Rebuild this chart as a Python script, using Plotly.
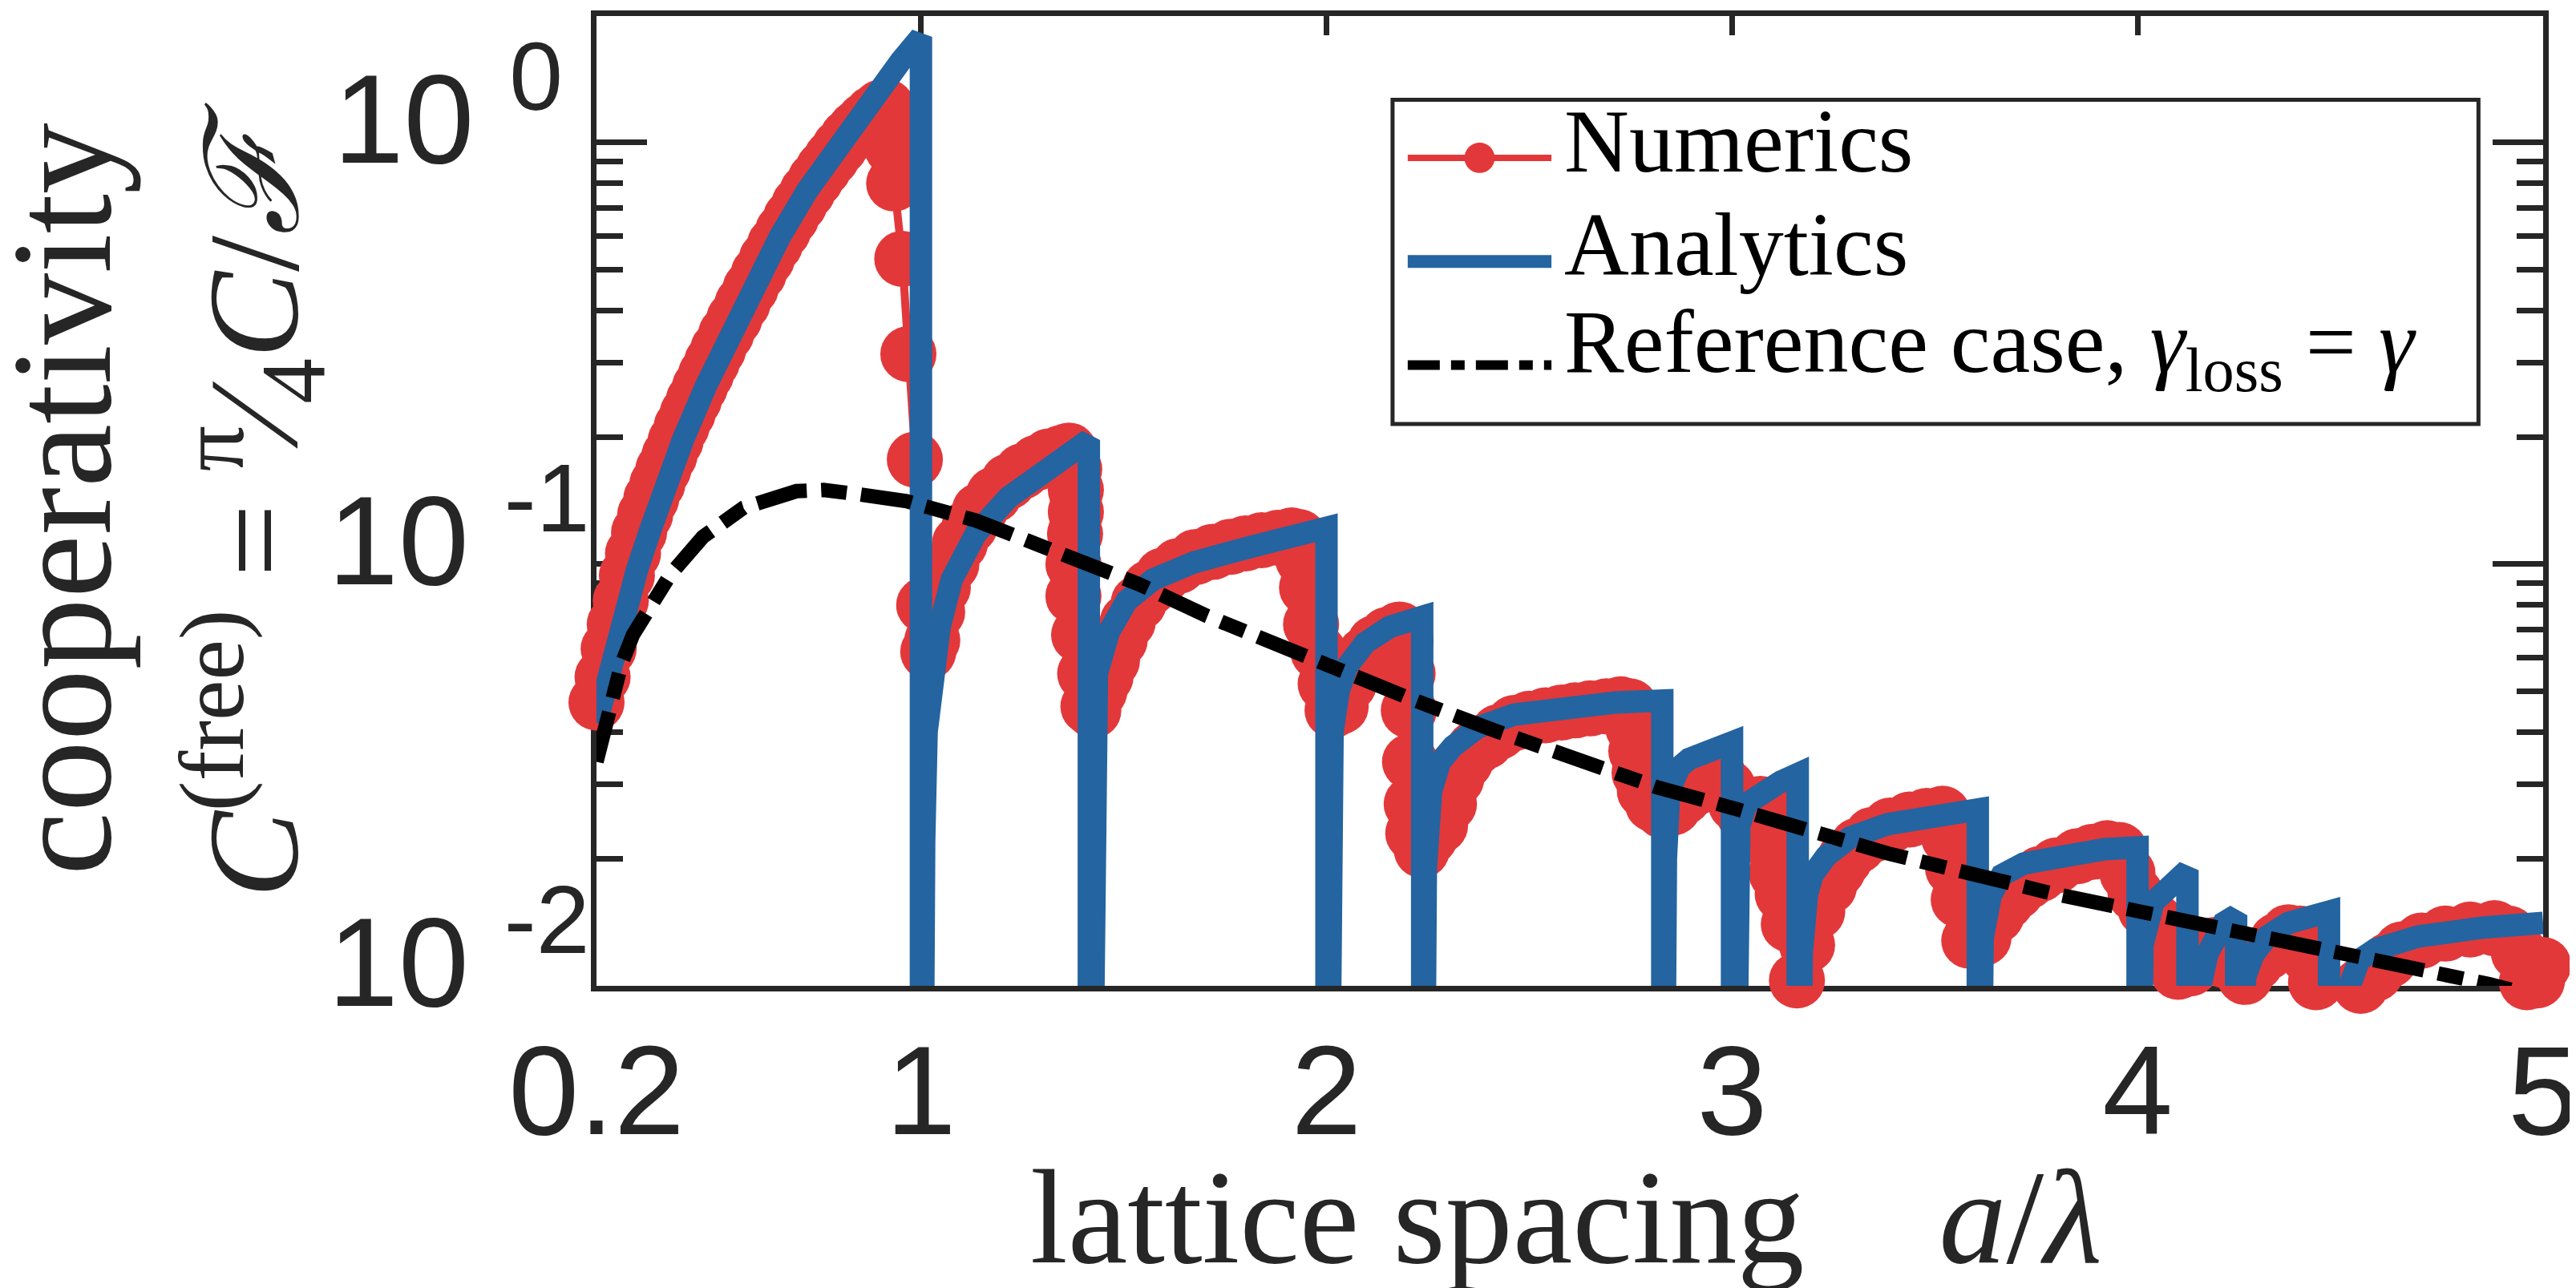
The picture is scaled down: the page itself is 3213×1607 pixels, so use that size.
import plotly.graph_objects as go

# ---------------- data ----------------
numerics_x = [0.200, 0.215, 0.230, 0.245, 0.260, 0.275, 0.290, 0.305, 0.320, 0.335,
              0.350, 0.365, 0.380, 0.395, 0.410, 0.425, 0.440, 0.455, 0.470, 0.485,
              0.500, 0.520, 0.540, 0.560, 0.580, 0.600, 0.620, 0.640, 0.660, 0.680,
              0.700, 0.720, 0.740, 0.760, 0.780, 0.800, 0.820, 0.840, 0.860, 0.880,
              0.900, 0.915, 0.924, 0.930, 0.934, 0.954, 0.969,
              0.985, 1.008, 1.018, 1.028, 1.040, 1.054, 1.075, 1.096, 1.120,
              1.145, 1.180, 1.216, 1.250, 1.286, 1.315, 1.345, 1.365, 1.378, 1.382,
              1.382, 1.380, 1.376, 1.376, 1.390, 1.405, 1.413, 1.425, 1.440, 1.455,
              1.471, 1.490, 1.510, 1.537, 1.565, 1.597, 1.635, 1.678, 1.720, 1.764,
              1.800, 1.840, 1.880, 1.914, 1.932, 1.942, 1.952, 1.962, 1.980, 1.998,
              2.015, 2.035, 2.055, 2.075, 2.095, 2.120, 2.150, 2.180, 2.195, 2.200,
              2.203, 2.206, 2.210, 2.214, 2.235, 2.255, 2.280, 2.302, 2.320, 2.342,
              2.365, 2.393, 2.425, 2.463, 2.500, 2.540, 2.580, 2.613, 2.650, 2.690,
              2.725, 2.748, 2.756, 2.764, 2.772, 2.785, 2.805, 2.830, 2.855, 2.880,
              2.910, 2.940, 2.970, 2.990, 3.010, 3.030, 3.050, 3.070, 3.090, 3.100,
              3.110, 3.125, 3.140, 3.160, 3.185, 3.210, 3.239, 3.260, 3.278, 3.310,
              3.346, 3.390, 3.438, 3.480, 3.519, 3.535, 3.545, 3.559, 3.585, 3.620,
              3.652, 3.675, 3.700, 3.730, 3.759, 3.800, 3.852, 3.890, 3.925, 3.955,
              3.975, 3.995, 4.020, 4.045, 4.065, 4.085, 4.100, 4.130, 4.160, 4.190,
              4.215, 4.239, 4.265, 4.290, 4.319, 4.345, 4.372, 4.400, 4.420, 4.440,
              4.460, 4.490, 4.519, 4.550, 4.586, 4.620, 4.652, 4.700, 4.759, 4.820,
              4.880, 4.915, 4.940, 4.960, 4.985, 5.000]
numerics_y = [0.047, 0.054, 0.063, 0.072, 0.082, 0.094, 0.106, 0.119, 0.131, 0.143,
              0.155, 0.168, 0.181, 0.196, 0.212, 0.228, 0.245, 0.263, 0.282, 0.302,
              0.323, 0.352, 0.382, 0.415, 0.451, 0.489, 0.530, 0.573, 0.617, 0.664,
              0.713, 0.764, 0.816, 0.868, 0.920, 0.975, 1.030, 1.080, 1.125, 1.170,
              1.210, 1.215, 1.100, 0.970, 0.800, 0.530, 0.315,
              0.177, 0.080, 0.062, 0.066, 0.077, 0.088, 0.100, 0.112, 0.123,
              0.134, 0.146, 0.157, 0.166, 0.174, 0.180, 0.1835, 0.186, 0.168, 0.150,
              0.133, 0.118, 0.100, 0.084, 0.068, 0.055, 0.046, 0.045, 0.050, 0.054,
              0.059, 0.066, 0.073, 0.081, 0.088, 0.094, 0.099, 0.104, 0.107, 0.110,
              0.112, 0.114, 0.1155, 0.117, 0.116, 0.103, 0.088, 0.072, 0.062, 0.052,
              0.045, 0.046, 0.052, 0.057, 0.061, 0.065, 0.068, 0.070, 0.066, 0.055,
              0.045, 0.034, 0.027, 0.023, 0.021, 0.0225, 0.024, 0.027, 0.031, 0.034,
              0.0365, 0.038, 0.040, 0.042, 0.043, 0.0438, 0.0445, 0.0450, 0.0455, 0.0460,
              0.0465, 0.0460, 0.041, 0.036, 0.032, 0.029, 0.027, 0.026, 0.0265, 0.028,
              0.0295, 0.0305, 0.031, 0.0295, 0.027, 0.0255, 0.026, 0.027, 0.026, 0.0215,
              0.0185, 0.0165, 0.0140, 0.0103, 0.0125, 0.0150, 0.0172, 0.0188, 0.0200, 0.0215,
              0.0228, 0.0240, 0.0248, 0.0253, 0.0256, 0.0225, 0.0190, 0.0160, 0.0128, 0.0130,
              0.0147, 0.0158, 0.0167, 0.0177, 0.0184, 0.0193, 0.0203, 0.0208, 0.0212, 0.0210,
              0.0185, 0.0165, 0.0152, 0.0142, 0.0135, 0.0118, 0.0108, 0.0110, 0.0122, 0.0125,
              0.0115, 0.0098, 0.0105, 0.0113, 0.0120, 0.0128, 0.0134, 0.0133, 0.0118, 0.0102,
              0.0095, 0.0092, 0.0095, 0.0100, 0.0107, 0.0115, 0.0122, 0.0128, 0.0133, 0.0136,
              0.0137, 0.0133, 0.0120, 0.0102, 0.0103, 0.0112]

analytics_x = [0.200, 0.230, 0.261, 0.300, 0.332, 0.370, 0.413, 0.470, 0.533, 0.590,
               0.653, 0.720, 0.785, 0.850, 0.905, 0.950, 1.000, 1.000,
               1.004, 1.008, 1.014, 1.025, 1.046, 1.076, 1.135, 1.216, 1.316, 1.414, 1.414,
               1.418, 1.421, 1.426, 1.434, 1.463, 1.508, 1.573, 1.673, 1.814, 1.955, 2.000, 2.000,
               2.004, 2.008, 2.015, 2.030, 2.050, 2.095, 2.156, 2.236, 2.236,
               2.240, 2.245, 2.258, 2.280, 2.312, 2.373, 2.463, 2.613, 2.713, 2.828, 2.828,
               2.832, 2.837, 2.845, 2.870, 2.894, 2.945, 3.000, 3.000,
               3.004, 3.009, 3.018, 3.035, 3.078, 3.120, 3.162, 3.162,
               3.166, 3.172, 3.185, 3.198, 3.232, 3.292, 3.385, 3.519, 3.606, 3.606,
               3.610, 3.618, 3.638, 3.665, 3.719, 3.812, 3.919, 4.000, 4.000,
               4.004, 4.012, 4.039, 4.080, 4.123, 4.123,
               4.127, 4.150, 4.172, 4.212, 4.243, 4.243,
               4.247, 4.265, 4.286, 4.320, 4.372, 4.472, 4.472,
               4.476, 4.520, 4.546, 4.586, 4.693, 4.853, 5.000]
analytics_y = [0.042, 0.056, 0.074, 0.097, 0.120, 0.155, 0.197, 0.265, 0.356, 0.460,
               0.600, 0.770, 0.950, 1.150, 1.370, 1.560, 1.780, 0.001,
               0.001, 0.022, 0.040, 0.055, 0.071, 0.092, 0.118, 0.144, 0.168, 0.197, 0.001,
               0.001, 0.025, 0.041, 0.055, 0.069, 0.082, 0.092, 0.101, 0.110, 0.118, 0.122, 0.001,
               0.001, 0.025, 0.040, 0.050, 0.057, 0.065, 0.071, 0.075, 0.001,
               0.001, 0.019, 0.029, 0.034, 0.037, 0.041, 0.044, 0.046, 0.047, 0.0475, 0.001,
               0.001, 0.020, 0.029, 0.033, 0.0345, 0.0366, 0.0378, 0.001,
               0.001, 0.018, 0.024, 0.027, 0.029, 0.0305, 0.0318, 0.001,
               0.001, 0.012, 0.0165, 0.0183, 0.0203, 0.0225, 0.0242, 0.0254, 0.0262, 0.001,
               0.001, 0.013, 0.0164, 0.0183, 0.0195, 0.0203, 0.0211, 0.0213, 0.001,
               0.001, 0.0125, 0.0158, 0.0176, 0.0188, 0.001,
               0.001, 0.0095, 0.0119, 0.0141, 0.0147, 0.001,
               0.001, 0.0105, 0.0119, 0.0131, 0.0141, 0.0150, 0.001,
               0.001, 0.0098, 0.0115, 0.0122, 0.0131, 0.01375, 0.0141]

reference_x = [0.200, 0.230, 0.261, 0.290, 0.322, 0.382, 0.462, 0.562, 0.693, 0.760,
               0.834, 0.965, 1.135, 1.336, 1.537, 1.706, 1.810, 2.010, 2.211, 2.412,
               2.613, 2.814, 3.014, 3.385, 3.785, 4.186, 4.586, 4.866, 4.920]
reference_y = [0.034, 0.046, 0.0578, 0.068, 0.0767, 0.0945, 0.116, 0.136, 0.149, 0.150,
               0.147, 0.141, 0.127, 0.1067, 0.0897, 0.0753, 0.0686, 0.0566, 0.0478, 0.0404,
               0.0346, 0.0296, 0.0262, 0.0206, 0.0166, 0.0137, 0.0115, 0.0101, 0.0098]

x_tickvals = [0.2, 1, 2, 3, 4, 5]
x_ticktext = ["0.2", "1", "2", "3", "4", "5"]
y_tickvals = [0.01, 0.1, 1]
y_exponents = ["-2", "-1", "0\u00a0"]
y_minor_tickvals = [0.02, 0.03, 0.04, 0.05, 0.06, 0.07, 0.08, 0.09,
                    0.2, 0.3, 0.4, 0.5, 0.6, 0.7, 0.8, 0.9]

legend_labels = ["Numerics", "Analytics", "Reference case, <i>γ</i><sub>loss</sub> = <i>γ</i>"]

# ---------------- styling / geometry ----------------
RED = "#E3383A"
BLUE = "#2464A0"
AX = "#262626"
SANS = "Liberation Sans, Arial, sans-serif"
SERIF = "Liberation Serif, Times New Roman, serif"

W, H = 3213, 1607
L, R, T, B = 736, 39, 5, 385
PW, PH = W - L - R, H - T - B


def px(xp):
    return (xp - L) / PW


def py(yp):
    return (H - B - yp) / PH


y_ticktext = ["10\u00a0<sup><span style='font-size:120px'>%s</span></sup>" % e
              for e in y_exponents]

fig = go.Figure()
fig.add_trace(go.Scatter(
    x=numerics_x, y=numerics_y, mode="lines+markers", name="Numerics",
    line=dict(color=RED, width=10),
    marker=dict(size=70, color=RED, line=dict(width=0)),
    cliponaxis=False, showlegend=False))
fig.add_trace(go.Scatter(
    x=analytics_x, y=analytics_y, mode="lines", name="Analytics",
    line=dict(color=BLUE, width=28), showlegend=False))
fig.add_trace(go.Scatter(
    x=reference_x, y=reference_y, mode="lines", name="Reference",
    line=dict(color="black", width=18, dash="64px,18px,32px,18px"),
    showlegend=False))

axis_common = dict(
    showline=True, linewidth=7, linecolor=AX, mirror="allticks",
    ticks="inside", tickwidth=7, tickcolor=AX, showgrid=False, zeroline=False,
    tickfont=dict(family=SANS, size=158, color=AX), layer="below traces",
    ticklabeloverflow="allow")

fig.update_xaxes(range=[0.19999, 5.00001], tickmode="array", tickvals=x_tickvals,
                 ticktext=x_ticktext, ticklen=24, ticklabelstandoff=-12,
                 **axis_common)
fig.update_yaxes(type="log", range=[-2, 0.3], tickmode="array",
                 tickvals=y_tickvals, ticktext=y_ticktext, ticklen=63,
                 ticklabelstandoff=-30, ticklabelshift=-30,
                 minor=dict(tickmode="array", tickvals=y_minor_tickvals,
                            ticks="inside", ticklen=33, tickwidth=7,
                            tickcolor=AX, showgrid=False),
                 **axis_common)

# ---------------- manual legend ----------------
shapes = []
box = dict(x0=1733, x1=3093, y0=110, y1=517)
shapes.append(dict(type="rect", xref="paper", yref="paper",
                   x0=px(box["x0"]), x1=px(box["x1"]),
                   y0=py(box["y1"]), y1=py(box["y0"]),
                   line=dict(color=AX, width=5), fillcolor="white", layer="above"))
row_y = [183, 313, 443]
sx0, sx1 = 1752, 1932
shapes.append(dict(type="line", xref="paper", yref="paper",
                   x0=px(sx0), x1=px(sx1), y0=py(row_y[0]), y1=py(row_y[0]),
                   line=dict(color=RED, width=8), layer="above"))
shapes.append(dict(type="circle", xref="paper", yref="paper",
                   x0=px(1823), x1=px(1861), y0=py(row_y[0] + 19), y1=py(row_y[0] - 19),
                   line=dict(width=0), fillcolor=RED, layer="above"))
shapes.append(dict(type="line", xref="paper", yref="paper",
                   x0=px(sx0), x1=px(sx1), y0=py(row_y[1]), y1=py(row_y[1]),
                   line=dict(color=BLUE, width=16), layer="above"))
shapes.append(dict(type="line", xref="paper", yref="paper",
                   x0=px(sx0), x1=px(sx1), y0=py(row_y[2]), y1=py(row_y[2]),
                   line=dict(color="black", width=12, dash="40px,14px,17px,14px"),
                   layer="above"))

annotations = []
for lab, ry in zip(legend_labels, row_y):
    annotations.append(dict(
        text=lab, xref="paper", yref="paper", x=px(1946), y=py(ry - 21),
        xanchor="left", yanchor="middle", showarrow=False,
        font=dict(family=SERIF, size=112, color="black")))

# axis titles
annotations.append(dict(
    text="lattice spacing\u00a0\u00a0\u00a0\u00a0<i>a</i>/<i>λ</i>",
    xref="paper", yref="paper", x=px(1950), y=py(1512),
    xanchor="center", yanchor="middle", showarrow=False,
    font=dict(family=SERIF, size=168, color=AX)))
annotations.append(dict(
    text="cooperativity", xref="paper", yref="paper", x=px(66), y=py(611),
    xanchor="center", yanchor="middle", textangle=-90, showarrow=False,
    font=dict(family=SERIF, size=178, color=AX)))
annotations.append(dict(
    text="<i>C</i><sup>(free)</sup> = <sup>π</sup>⁄<sub>4</sub><i>C</i>/<i>ℱ</i>",
    xref="paper", yref="paper", x=px(306), y=py(613),
    xanchor="center", yanchor="middle", textangle=-90, showarrow=False,
    font=dict(family=SERIF, size=162, color=AX)))

fig.update_layout(
    width=W, height=H, margin=dict(l=L, r=R, t=T, b=B),
    paper_bgcolor="white", plot_bgcolor="white",
    showlegend=False, shapes=shapes, annotations=annotations)

fig.write_html("out.html")
